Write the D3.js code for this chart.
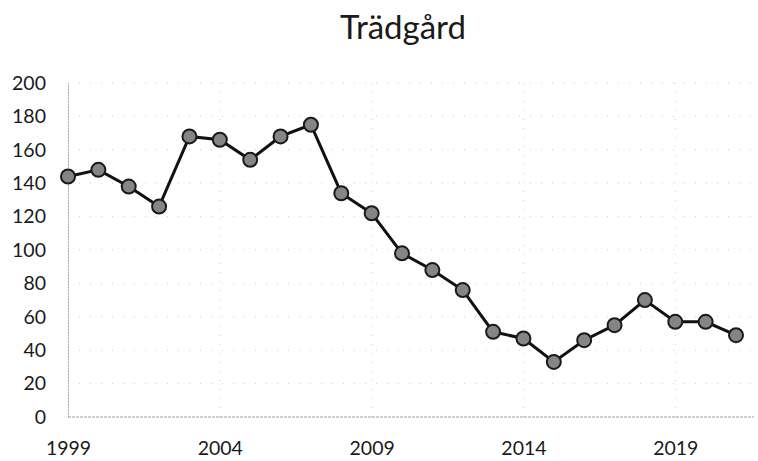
<!DOCTYPE html>
<html>
<head>
<meta charset="utf-8">
<script src="https://cdn.jsdelivr.net/npm/d3@7"></script>
<style>
  html, body { margin: 0; padding: 0; background: #fff; }
  svg { display: block; }
  text { font-family: Lato, "Open Sans", sans-serif; fill: #1a1a1a; }
</style>
</head>
<body>
<svg id="chart" width="758" height="461"></svg>
<script>
// Yearly series
const years = [1999, 2000, 2001, 2002, 2003, 2004, 2005, 2006, 2007, 2008, 2009,
               2010, 2011, 2012, 2013, 2014, 2015, 2016, 2017, 2018, 2019, 2020, 2021];
const values = [144, 148, 138, 126, 168, 166, 154, 168, 175, 134, 122,
                98, 88, 76, 51, 47, 33, 46, 55, 70, 57, 57, 49];
const xTicks = [1999, 2004, 2009, 2014, 2019];
const yTicks = [0, 20, 40, 60, 80, 100, 120, 140, 160, 180, 200];
const title = "Trädgård";

const svg = d3.select("#chart");
const margin = { left: 68, right: 22, top: 83, bottom: 44 };
const W = 758, H = 461;
const font = "Lato, 'Open Sans', sans-serif";

const x = d3.scaleLinear().domain([1999, 2021]).range([margin.left, 736]);
const y = d3.scaleLinear().domain([0, 200]).range([417, margin.top]);

// Title
svg.append("text")
  .attr("x", 403).attr("y", 39)
  .attr("text-anchor", "middle")
  .attr("font-size", 33)
  .text(title);

// Horizontal gridlines
svg.append("g")
  .selectAll("line")
  .data(yTicks.filter(d => d > 0))
  .join("line")
  .attr("x1", margin.left).attr("x2", W - 4)
  .attr("y1", d => y(d)).attr("y2", d => y(d))
  .attr("stroke", "#cdcdcd").attr("stroke-width", 1)
  .attr("stroke-dasharray", "1,10");

// Vertical gridlines
svg.append("g")
  .selectAll("line")
  .data(xTicks.filter(d => d > 1999))
  .join("line")
  .attr("x1", d => x(d)).attr("x2", d => x(d))
  .attr("y1", y(200)).attr("y2", y(0))
  .attr("stroke", "#cdcdcd").attr("stroke-width", 1)
  .attr("stroke-dasharray", "1,8");

// Y axis
const yAxis = d3.axisLeft(y).tickValues(yTicks).tickSize(0).tickPadding(22);
const gy = svg.append("g").attr("transform", `translate(${margin.left},0)`).call(yAxis);
gy.select(".domain").attr("stroke", "#a0a0a0").attr("stroke-dasharray", "2,1");
gy.selectAll("text").attr("font-size", 19.5).attr("font-family", font).attr("fill", "#1a1a1a");

// X axis
const xAxis = d3.axisBottom(x).tickValues(xTicks).tickFormat(d3.format("d")).tickSize(0).tickPadding(24);
const gx = svg.append("g").attr("transform", `translate(0,${y(0)})`).call(xAxis);
gx.select(".domain").attr("stroke", "#a0a0a0").attr("stroke-dasharray", "3,1").attr("d", `M${margin.left},0H${W - 4}`);
gx.selectAll("text").attr("font-size", 19.5).attr("font-family", font).attr("fill", "#1a1a1a");

// Line
const line = d3.line().x((d, i) => x(years[i])).y(d => y(d));
svg.append("path")
  .datum(values)
  .attr("d", line)
  .attr("fill", "none")
  .attr("stroke", "#111")
  .attr("stroke-width", 3);

// Markers
svg.append("g")
  .selectAll("circle")
  .data(values)
  .join("circle")
  .attr("cx", (d, i) => x(years[i]))
  .attr("cy", d => y(d))
  .attr("r", 7)
  .attr("fill", "#858585")
  .attr("stroke", "#1a1a1a")
  .attr("stroke-width", 2);
</script>
</body>
</html>
